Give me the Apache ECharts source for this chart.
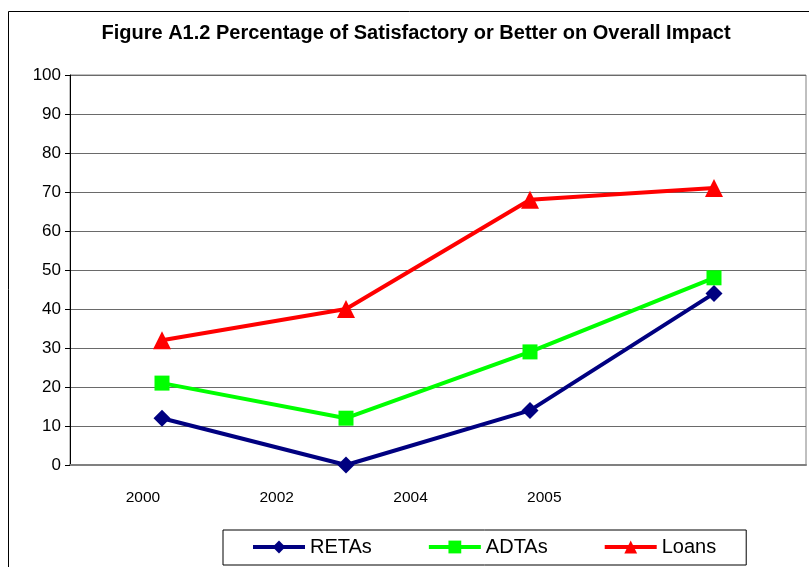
<!DOCTYPE html>
<html>
<head>
<meta charset="utf-8">
<script src="https://cdn.jsdelivr.net/npm/echarts@6/dist/echarts.min.js"></script>
<style>
  html, body { margin: 0; padding: 0; background: #fff; }
  #chart { width: 809px; height: 567px; }
</style>
</head>
<body>
<div id="chart"></div>
<script>
// data
const years = ["2000", "2002", "2004", "2005"];
// Excel put the labels on their own spacing, not under the points
const yearLabels = ["", "2000", "", "2002", "", "2004", "", "2005", "", "", "", ""];
const retas = [12, 0, 14, 44];
const adtas = [21, 12, 29, 48];
const loans = [32, 40, 68, 71];

const chart = echarts.init(document.getElementById("chart"));

const lineSeries = (name, data, color, symbol, size) => ({
  name: name,
  type: "line",
  data: data,
  symbol: symbol,
  symbolSize: size,
  clip: false,
  lineStyle: { width: 4, color: color },
  itemStyle: { color: color },
});

const option = {
  animation: false,
  textStyle: { fontFamily: "Liberation Sans, Arial, sans-serif" },
  title: {
    text: "Figure A1.2 Percentage of Satisfactory or Better on Overall Impact",
    left: 411,
    textAlign: "center",
    top: 18,
    textStyle: { fontSize: 20, fontWeight: "bold", color: "#000" },
  },
  graphic: [
    {
      // outer chart frame
      type: "rect",
      shape: { x: 8.5, y: 11.5, width: 820, height: 600 },
      style: { fill: "none", stroke: "#000", lineWidth: 1 },
      silent: true,
    },
  ],
  legend: {
    left: 223,
    top: 530,
    height: 22,
    padding: [7, 30, 8, 28],
    borderColor: "#000",
    borderWidth: 1,
    itemWidth: 52,
    itemHeight: 16,
    itemGap: 55,
    lineStyle: { width: 4 },
    textStyle: { fontSize: 20, color: "#000", width: 66, overflow: "none" },
    data: ["RETAs", "ADTAs", "Loans"],
  },
  grid: {
    left: 70,
    right: 1,
    top: 75,
    bottom: 102,
    show: true,
    borderColor: "#808080",
    borderWidth: 1,
  },
  xAxis: [
    {
      type: "category",
      data: years,
      boundaryGap: true,
      axisLine: { lineStyle: { color: "#808080", width: 2 } },
      axisTick: { show: false },
      axisLabel: { show: false },
    },
    {
      type: "category",
      position: "bottom",
      data: yearLabels,
      boundaryGap: false,
      axisLine: { show: false },
      axisTick: { show: false },
      axisLabel: {
        interval: 0,
        margin: 25,
        fontSize: 15.5,
        color: "#000",
        padding: [0, 0, 0, 12],
      },
    },
  ],
  yAxis: {
    type: "value",
    min: 0,
    max: 100,
    interval: 10,
    axisLine: { show: true, lineStyle: { color: "#000", width: 1 } },
    axisTick: { show: true, length: 5, lineStyle: { color: "#000" } },
    axisLabel: { fontSize: 17, color: "#000", margin: 9 },
    splitLine: { lineStyle: { color: "#6a6a6a", width: 1 } },
  },
  series: [
    lineSeries("RETAs", retas, "#000080", "diamond", 17),
    lineSeries("ADTAs", adtas, "#00ff00", "rect", 15),
    lineSeries("Loans", loans, "#ff0000", "triangle", 18),
  ],
};

chart.setOption(option);
</script>
</body>
</html>
